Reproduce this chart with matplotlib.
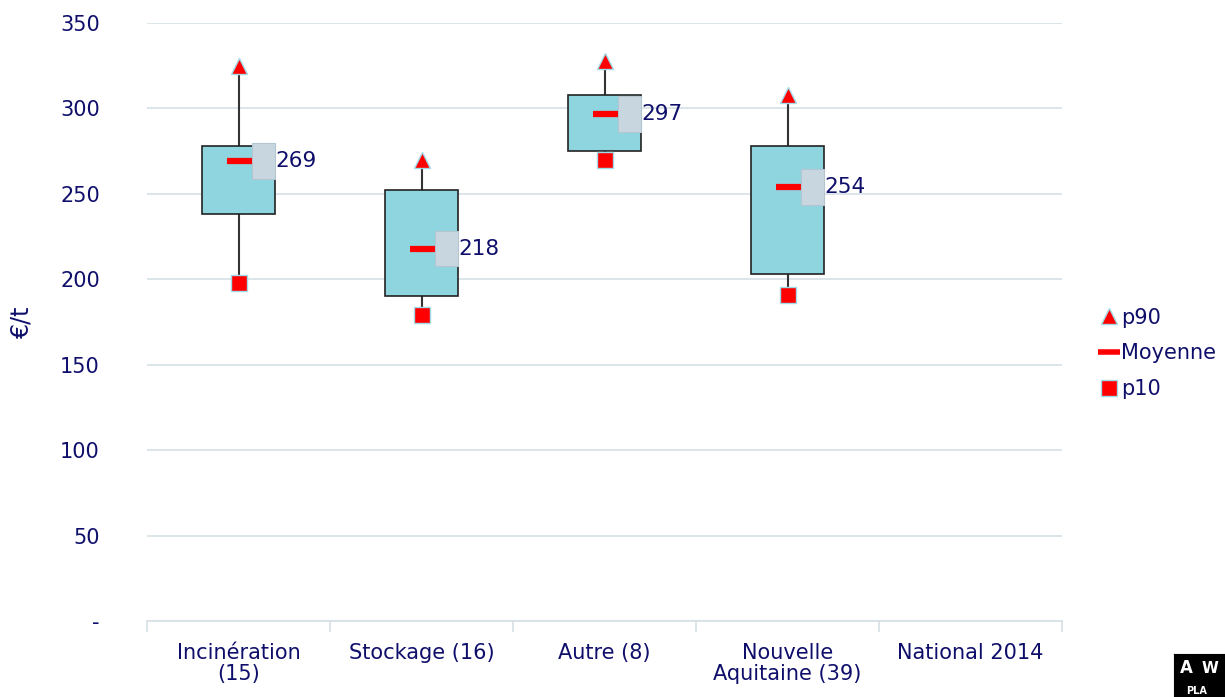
import numpy as np
import matplotlib.pyplot as plt
from matplotlib.patches import Rectangle
from matplotlib.lines import Line2D

# --- données (€/t) ---
categories = ['Incinération\n(15)', 'Stockage (16)', 'Autre (8)',
              'Nouvelle\nAquitaine (39)', 'National 2014']
p10 = [198, 179, 270, 191, np.nan]
q1 = [238, 190, 275, 203, np.nan]
moyenne = [269, 218, 297, 254, np.nan]
q3 = [278, 252, 308, 278, np.nan]
p90 = [325, 270, 328, 308, np.nan]

navy = '#0f0f6b'
box_color = '#8fd5e0'
grid_color = '#d6e0e6'

plt.rcParams['font.family'] = ['DejaVu Sans']
fig = plt.figure(figsize=(12.25, 6.97), dpi=100)
ax = fig.add_axes([0.12, 0.109, 0.747, 0.858])

x = np.arange(len(categories))
w = 0.4

for i in x:
    if np.isnan(moyenne[i]):
        continue
    # moustaches
    ax.plot([i, i], [q3[i], p90[i]], color='#333333', lw=1.5, zorder=2)
    ax.plot([i, i], [p10[i], q1[i]], color='#333333', lw=1.5, zorder=2)
    # boîte
    ax.bar(i, q3[i] - q1[i], bottom=q1[i], width=w, color=box_color,
           edgecolor='#222222', linewidth=1.2, zorder=3)
    # fond de l'étiquette
    ax.add_patch(Rectangle((i + w / 2 - 0.125, moyenne[i] - 10.5), 0.125, 21,
                           facecolor='#c8d6e0', edgecolor='#b5c5d0', lw=0.8, zorder=4))
    ax.text(i + w / 2 + 0.003, moyenne[i], f'{moyenne[i]:.0f}', ha='left', va='center',
            fontsize=15.5, color=navy, zorder=6)

ax.plot(x, p90, linestyle='none', marker='^', markersize=11, color='red',
        markeredgecolor='#9fdbe8', markeredgewidth=1, zorder=5)
ax.plot(x, p10, linestyle='none', marker='s', markersize=11, color='red',
        markeredgecolor='#9fdbe8', markeredgewidth=1, zorder=5)
ax.plot(x, moyenne, linestyle='none', marker='_', markersize=18, color='red',
        markeredgewidth=4.5, zorder=5)

ax.set_xlim(-0.5, len(categories) - 0.5)
ax.set_ylim(0, 350)
yticks = np.arange(0, 351, 50)
ax.set_yticks(yticks)
ax.set_yticklabels(['-'] + [str(v) for v in yticks[1:]], fontsize=15, color=navy)
ax.yaxis.grid(True, color=grid_color, lw=1.2)
ax.set_axisbelow(True)
ax.tick_params(axis='y', length=0, pad=34)

ax.set_xticks(x)
ax.set_xticklabels(categories, fontsize=15, color=navy, linespacing=1.05)
ax.set_xticks(np.arange(-0.5, len(categories)), minor=True)
ax.tick_params(axis='x', which='major', length=0, pad=16)
ax.tick_params(axis='x', which='minor', length=8, color=grid_color, width=1.2)

for s in ['top', 'right', 'left']:
    ax.spines[s].set_visible(False)
ax.spines['bottom'].set_color(grid_color)
ax.spines['bottom'].set_linewidth(1.2)

ax.set_ylabel('€/t', fontsize=17, color=navy)
ax.yaxis.set_label_coords(-0.124, 0.5)

handles = [
    Line2D([], [], linestyle='none', marker='^', markersize=11, color='red',
           markeredgecolor='#9fdbe8', markeredgewidth=1),
    Line2D([], [], linestyle='none', marker='_', markersize=16, color='red',
           markeredgewidth=4),
    Line2D([], [], linestyle='none', marker='s', markersize=11, color='red',
           markeredgecolor='#9fdbe8', markeredgewidth=1),
]
leg = fig.legend(handles, ['p90', 'Moyenne', 'p10'], loc='center left',
                 bbox_to_anchor=(0.884, 0.493), frameon=False, fontsize=15,
                 handlelength=0.7, handletextpad=0.25, labelspacing=0.75)
for t in leg.get_texts():
    t.set_color(navy)

# logo partiel en bas à droite
logo = fig.add_axes([0.958, 0.0, 0.042, 0.062])
logo.set_facecolor('black')
logo.set_xticks([])
logo.set_yticks([])
logo.text(0.25, 0.66, 'A', color='white', fontsize=12, fontweight='bold',
          ha='center', va='center', transform=logo.transAxes)
logo.text(0.7, 0.66, 'W', color='white', fontsize=11, fontweight='bold',
          ha='center', va='center', transform=logo.transAxes)
logo.text(0.45, 0.02, 'PLA', color='white', fontsize=7, fontweight='bold',
          ha='center', va='bottom', transform=logo.transAxes)

fig.savefig('out.png', dpi=100)
